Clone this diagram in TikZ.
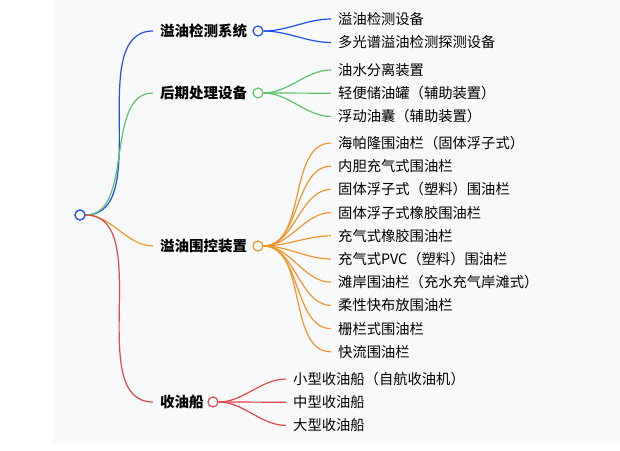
\documentclass[tikz,border=0pt]{standalone}
\usepackage{fontspec}
\setmainfont{Noto Sans CJK SC}
\usetikzlibrary{calc}
\definecolor{cblue}{HTML}{1F4FE8}
\definecolor{cgreen}{HTML}{5CC46A}
\definecolor{corange}{HTML}{F0962A}
\definecolor{cred}{HTML}{E04848}
\definecolor{bggray}{HTML}{F8F9FB}
\tikzset{
  hub/.style={circle,draw=#1,fill=white,line width=1.2pt,inner sep=0pt,minimum size=10pt},
  branch/.style={font=\bfseries\fontsize{14.5}{16}\selectfont,anchor=west,inner sep=0pt},
  leaf/.style={font=\fontsize{14.3}{16}\selectfont,anchor=west,inner sep=0pt},
  link/.style={line width=1.2pt,draw=#1},
}
\newcommand{\curve}[3]{\draw[link=#1] (#2) to[out=0,in=180,looseness=0.9] (#3);}
\begin{document}
\begin{tikzpicture}[x=1pt,y=-1pt]
        \useasboundingbox (0,0) rectangle (620,450);
        \fill[bggray] (53,0) rectangle (620,443);
        \node[hub=cblue] (root) at (80,215) {};
        % branches
        \node[branch] (b1) at (160,31) {溢油检测系统};
        \node[branch] (b2) at (160,93) {后期处理设备};
        \node[branch] (b3) at (160,246) {溢油围控装置};
        \node[branch] (b4) at (160,402) {收油船};
        \coordinate (e1) at (153,31);
        \coordinate (e2) at (153,93);
        \coordinate (e3) at (153,246);
        \coordinate (e4) at (153,402);
        \curve{cblue}{root.east}{e1}
        \curve{cgreen}{root.east}{e2}
        \curve{corange}{root.east}{e3}
        \curve{cred}{root.east}{e4}
        \node[hub=cblue] (h1) at (258,31) {};
        \node[hub=cgreen] (h2) at (258,93) {};
        \node[hub=corange] (h3) at (258,246) {};
        \node[hub=cred] (h4) at (213,402) {};
        \node[hub=cblue] at (root) {};
        % leaves
        \foreach \t [count=\i] in {溢油检测设备,多光谱溢油检测探测设备}{
          \node[leaf] (l1\i) at (338,{19+23.5*(\i-1)}) {\t};
          \coordinate (c) at (331,{19+23.5*(\i-1)});
          \curve{cblue}{h1.east}{c}
        }
        \foreach \t [count=\i] in {油水分离装置,轻便储油罐（辅助装置）,浮动油囊（辅助装置）}{
          \node[leaf] (l2\i) at (338,{70+23.2*(\i-1)}) {\t};
          \coordinate (c) at (331,{70+23.2*(\i-1)});
          \curve{cgreen}{h2.east}{c}
        }
        \foreach \t [count=\i] in {海帕隆围油栏（固体浮子式）,内胆充气式围油栏,固体浮子式（塑料）围油栏,
            固体浮子式橡胶围油栏,充气式橡胶围油栏,充气式PVC（塑料）围油栏,滩岸围油栏（充水充气岸滩式）,
            柔性快布放围油栏,栅栏式围油栏,快流围油栏}{
          \node[leaf] (l3\i) at (338,{143+23.2*(\i-1)}) {\t};
          \coordinate (c) at (331,{143+23.2*(\i-1)});
          \curve{corange}{h3.east}{c}
        }
        \foreach \t [count=\i] in {小型收油船（自航收油机）,中型收油船,大型收油船}{
          \node[leaf] (l4\i) at (293,{379+23.2*(\i-1)}) {\t};
          \coordinate (c) at (286,{379+23.2*(\i-1)});
          \curve{cred}{h4.east}{c}
        }
      \end{tikzpicture}
\end{document}
